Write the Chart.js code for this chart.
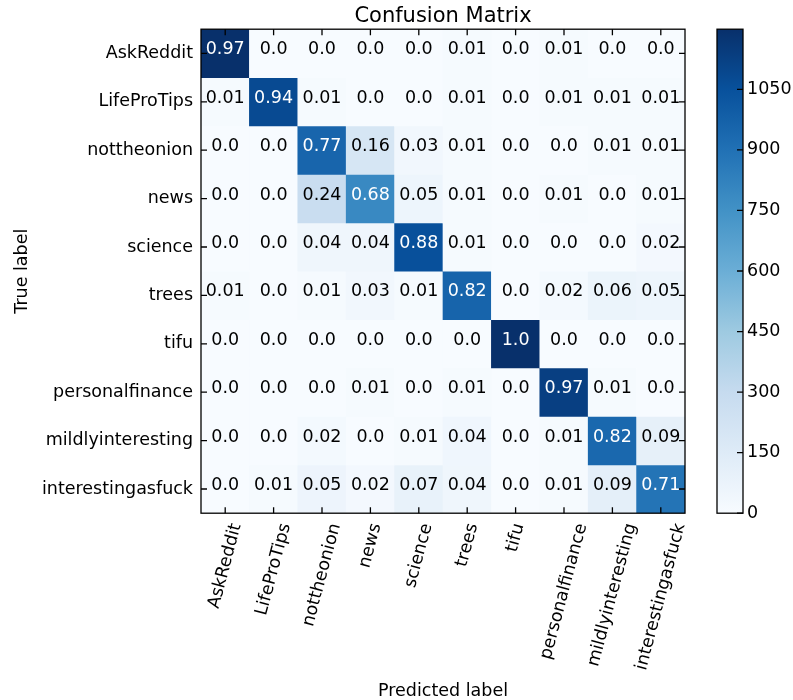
<!DOCTYPE html>
<html>
<head>
<meta charset="utf-8">
<script src="https://cdn.jsdelivr.net/npm/chart.js@4/dist/chart.umd.min.js"></script>
<style>
  html, body { margin: 0; padding: 0; background: #fff; }
  canvas { display: block; }
</style>
</head>
<body>
<canvas id="cm" width="793" height="700"></canvas>
<script>
// Subreddit classes (rows = true label, columns = predicted label)
const classes = [
  'AskReddit', 'LifeProTips', 'nottheonion', 'news', 'science',
  'trees', 'tifu', 'personalfinance', 'mildlyinteresting', 'interestingasfuck'
];

// Row-normalised confusion matrix, as printed in each cell
const rowAskReddit         = [0.97, 0.0, 0.0, 0.0, 0.0, 0.01, 0.0, 0.01, 0.0, 0.0];
const rowLifeProTips       = [0.01, 0.94, 0.01, 0.0, 0.0, 0.01, 0.0, 0.01, 0.01, 0.01];
const rowNottheonion       = [0.0, 0.0, 0.77, 0.16, 0.03, 0.01, 0.0, 0.0, 0.01, 0.01];
const rowNews              = [0.0, 0.0, 0.24, 0.68, 0.05, 0.01, 0.0, 0.01, 0.0, 0.01];
const rowScience           = [0.0, 0.0, 0.04, 0.04, 0.88, 0.01, 0.0, 0.0, 0.0, 0.02];
const rowTrees             = [0.01, 0.0, 0.01, 0.03, 0.01, 0.82, 0.0, 0.02, 0.06, 0.05];
const rowTifu              = [0.0, 0.0, 0.0, 0.0, 0.0, 0.0, 1.0, 0.0, 0.0, 0.0];
const rowPersonalfinance   = [0.0, 0.0, 0.0, 0.01, 0.0, 0.01, 0.0, 0.97, 0.01, 0.0];
const rowMildlyinteresting = [0.0, 0.0, 0.02, 0.0, 0.01, 0.04, 0.0, 0.01, 0.82, 0.09];
const rowInterestingasfuck = [0.0, 0.01, 0.05, 0.02, 0.07, 0.04, 0.0, 0.01, 0.09, 0.71];

const matrix = [
  rowAskReddit, rowLifeProTips, rowNottheonion, rowNews, rowScience,
  rowTrees, rowTifu, rowPersonalfinance, rowMildlyinteresting, rowInterestingasfuck
];

// Number of test posts per true class (cell colour is driven by raw counts)
const rowTotals = [1235, 1150, 1240, 1160, 1195, 1170, 1199, 1165, 1150, 1250];

// Colour bar tick labels
const colorbarTicks = [0, 150, 300, 450, 600, 750, 900, 1050];

// ---------------------------------------------------------------------------
const FONT = "'DejaVu Sans', 'Liberation Sans', sans-serif";
const BASE_SIZE = 17.5;

// matplotlib "Blues" colormap anchors
const BLUES = [
  [247, 251, 255], [222, 235, 247], [198, 219, 239], [158, 202, 225],
  [107, 174, 214], [66, 146, 198], [33, 113, 181], [8, 81, 156], [8, 48, 107]
];
function blues(t) {
  t = Math.max(0, Math.min(1, t));
  const p = t * (BLUES.length - 1);
  const i = Math.min(Math.floor(p), BLUES.length - 2);
  const f = p - i;
  const a = BLUES[i], b = BLUES[i + 1];
  const c = a.map((v, k) => Math.round(v + (b[k] - v) * f));
  return `rgb(${c[0]},${c[1]},${c[2]})`;
}

const counts = matrix.map((row, i) => row.map(v => v * rowTotals[i]));
const vmax = Math.max(...counts.flat());

function fmt(v) {
  const s = String(v);
  return s.includes('.') ? s : s + '.0';
}

// Each true-label row is one stacked dataset; every cell spans one row unit
const datasets = matrix.map((row, i) => ({
  label: classes[i],
  data: row.map(() => 1),
  backgroundColor: ctx => blues(counts[i][ctx.dataIndex] / vmax),
  borderWidth: 0,
  barPercentage: 1,
  categoryPercentage: 1,
  yAxisID: 'y'
}));

const TICK_LEN = 6;
const FRAME_W = 1.3;

const decorations = {
  id: 'decorations',
  afterDatasetsDraw(chart) {
    const ctx = chart.ctx;
    // cell annotations
    ctx.save();
    ctx.font = `${BASE_SIZE}px ${FONT}`;
    ctx.textAlign = 'center';
    ctx.textBaseline = 'alphabetic';
    matrix.forEach((row, i) => {
      const meta = chart.getDatasetMeta(i);
      meta.data.forEach((el, j) => {
        const cy = (el.y + el.base) / 2;
        ctx.fillStyle = row[j] > 0.5 ? '#fff' : '#000';
        ctx.fillText(fmt(row[j]), el.x, cy + 1);
      });
    });
    ctx.restore();
  },
  afterDraw(chart) {
    const ctx = chart.ctx;
    const a = chart.chartArea;
    const xs = chart.scales.x, ys = chart.scales.y, cb = chart.scales.cbar;

    ctx.save();
    ctx.strokeStyle = '#000';
    ctx.lineWidth = FRAME_W;
    // axes frame
    ctx.strokeRect(a.left, a.top, a.right - a.left, a.bottom - a.top);
    // inward tick marks
    ctx.beginPath();
    classes.forEach((_, j) => {
      const x = xs.getPixelForValue(j);
      ctx.moveTo(x, a.top); ctx.lineTo(x, a.top + TICK_LEN);
      ctx.moveTo(x, a.bottom); ctx.lineTo(x, a.bottom - TICK_LEN);
    });
    classes.forEach((_, i) => {
      const y = ys.getPixelForValue(i + 0.5);
      ctx.moveTo(a.left, y); ctx.lineTo(a.left + TICK_LEN, y);
      ctx.moveTo(a.right, y); ctx.lineTo(a.right - TICK_LEN, y);
    });
    ctx.stroke();

    // title
    ctx.fillStyle = '#000';
    ctx.font = `21px ${FONT}`;
    ctx.textAlign = 'center';
    ctx.textBaseline = 'alphabetic';
    ctx.fillText('Confusion Matrix', (a.left + a.right) / 2, 22);

    // rotated predicted-label tick labels (centred under each tick)
    ctx.font = `${BASE_SIZE}px ${FONT}`;
    const th = 75 * Math.PI / 180;
    const h = BASE_SIZE * 1.164;
    classes.forEach((lab, j) => {
      const px = xs.getPixelForValue(j);
      const L = ctx.measureText(lab).width;
      const H = L * Math.sin(th) + h * Math.cos(th);
      const top = a.bottom + 8;
      ctx.save();
      ctx.translate(px, top + H / 2);
      ctx.rotate(-th);
      ctx.textAlign = 'center';
      ctx.textBaseline = 'middle';
      ctx.fillText(lab, 0, 0);
      ctx.restore();
    });

    // colour bar
    const bl = a.right + 32, br = a.right + 58;
    const yTop = cb.getPixelForValue(vmax), yBot = cb.getPixelForValue(0);
    const grad = ctx.createLinearGradient(0, yBot, 0, yTop);
    BLUES.forEach((c, k) => grad.addColorStop(k / (BLUES.length - 1), `rgb(${c[0]},${c[1]},${c[2]})`));
    ctx.fillStyle = grad;
    ctx.fillRect(bl, yTop, br - bl, yBot - yTop);
    ctx.strokeRect(bl, yTop, br - bl, yBot - yTop);
    ctx.beginPath();
    colorbarTicks.forEach(v => {
      const y = cb.getPixelForValue(v);
      ctx.moveTo(br, y); ctx.lineTo(br - TICK_LEN, y);
    });
    ctx.stroke();
    ctx.restore();
  }
};

Chart.defaults.font.family = FONT;
Chart.defaults.font.size = BASE_SIZE;
Chart.defaults.color = '#000';

new Chart(document.getElementById('cm'), {
  type: 'bar',
  data: { labels: classes, datasets },
  options: {
    responsive: false,
    devicePixelRatio: 1,
    animation: false,
    events: [],
    layout: { padding: { top: 29.2, left: 0, right: 0, bottom: 0 } },
    plugins: {
      legend: { display: false },
      tooltip: { enabled: false },
      title: { display: false }
    },
    scales: {
      x: {
        type: 'category',
        stacked: true,
        offset: true,
        grid: { display: false, drawTicks: false },
        border: { display: false },
        ticks: { display: false },
        title: {
          display: true,
          text: 'Predicted label',
          font: { size: BASE_SIZE, lineHeight: 1.03 },
          padding: 0
        },
        afterFit(scale) { scale.height = 186.8; }
      },
      y: {
        type: 'linear',
        position: 'left',
        stacked: true,
        reverse: true,
        min: 0,
        max: classes.length,
        grid: { display: false, drawTicks: false },
        border: { display: false },
        ticks: {
          padding: 8,
          autoSkip: false,
          callback: v => classes[Math.floor(v)]
        },
        afterBuildTicks(scale) {
          scale.ticks = classes.map((_, i) => ({ value: i + 0.5 }));
        },
        title: {
          display: true,
          text: 'True label',
          font: { size: BASE_SIZE, lineHeight: 1.03 },
          padding: { top: 13, bottom: 0 }
        },
        afterFit(scale) {
          scale.width = 201;
          scale.paddingTop = 0;
          scale.paddingBottom = 0;
        }
      },
      cbar: {
        type: 'linear',
        position: 'right',
        min: 0,
        max: vmax,
        grid: { display: false, drawTicks: false },
        border: { display: false },
        ticks: { padding: 62, autoSkip: false, callback: v => String(v) },
        afterBuildTicks(scale) {
          scale.ticks = colorbarTicks.map(v => ({ value: v }));
        },
        afterFit(scale) {
          scale.width = 108;
          scale.paddingTop = 0;
          scale.paddingBottom = 0;
        }
      }
    }
  },
  plugins: [decorations]
});
</script>
</body>
</html>
